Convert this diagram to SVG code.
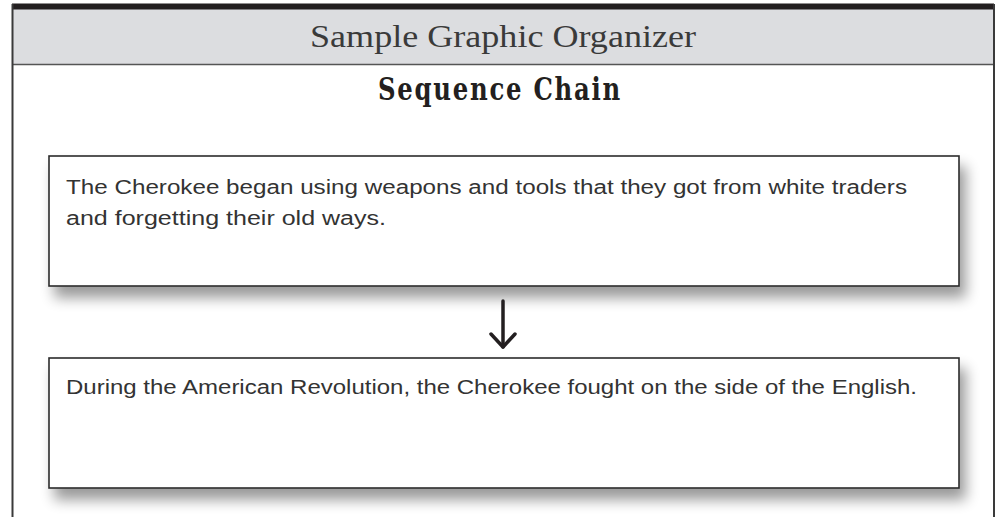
<svg xmlns="http://www.w3.org/2000/svg" width="997" height="517" viewBox="0 0 997 517">
  <defs>
    <filter id="shadow" x="-5%" y="-20%" width="115%" height="170%">
      <feGaussianBlur in="SourceAlpha" stdDeviation="7"/>
      <feOffset dx="6" dy="11" result="b"/>
      <feComponentTransfer><feFuncA type="linear" slope="0.4"/></feComponentTransfer>
      <feMerge><feMergeNode/><feMergeNode in="SourceGraphic"/></feMerge>
    </filter>
  </defs>
  <style>
    .frame { stroke: #3a3a3a; stroke-width: 2; fill: none; }
    .box { fill: #ffffff; stroke: #2b2b2b; stroke-width: 1.6; }
    .body { font-family: "Liberation Sans", "DejaVu Sans", sans-serif; font-size: 20px; fill: #333333; }
    .arrow { stroke: #231f20; stroke-width: 3.5; fill: none; stroke-linecap: round; stroke-linejoin: round; }
  </style>
  <rect x="0" y="0" width="997" height="517" fill="#ffffff"/>
  <g id="header">
    <rect x="12" y="9" width="982" height="56" fill="#dcdde0"/>
    <rect x="12" y="3.5" width="982" height="6" fill="#231f20"/>
    <line x1="12" y1="64.5" x2="994" y2="64.5" stroke="#555" stroke-width="1.6"/>
    <line x1="12.5" y1="4" x2="12.5" y2="517" class="frame"/>
    <line x1="994" y1="4" x2="994" y2="517" class="frame"/>
    <text x="503" y="47" text-anchor="middle" font-family="Liberation Serif, serif" font-size="31" fill="#3a3a3a" textLength="386" lengthAdjust="spacingAndGlyphs">Sample Graphic Organizer</text>
  </g>
  <g id="title">
    <text x="500" y="100" text-anchor="middle" font-family="'DejaVu Serif Condensed', 'DejaVu Serif', serif" font-weight="bold" font-size="31" fill="#231f20" letter-spacing="2" textLength="244" lengthAdjust="spacingAndGlyphs">Sequence Chain</text>
  </g>
  <g id="event1">
    <rect x="49" y="156" width="910" height="130" class="box" filter="url(#shadow)"/>
    <text class="body" x="66" y="194" textLength="841" lengthAdjust="spacingAndGlyphs">The Cherokee began using weapons and tools that they got from white traders</text>
    <text class="body" x="66" y="225" textLength="320" lengthAdjust="spacingAndGlyphs">and forgetting their old ways.</text>
  </g>
  <g id="event2">
    <rect x="49" y="358" width="910" height="130" class="box" filter="url(#shadow)"/>
    <text class="body" x="66" y="394" textLength="851" lengthAdjust="spacingAndGlyphs">During the American Revolution, the Cherokee fought on the side of the English.</text>
  </g>
  <g id="connectors">
    <line x1="503" y1="301" x2="503" y2="347" class="arrow"/>
    <polyline points="491,334 503,347 515,334" class="arrow"/>
  </g>
</svg>
